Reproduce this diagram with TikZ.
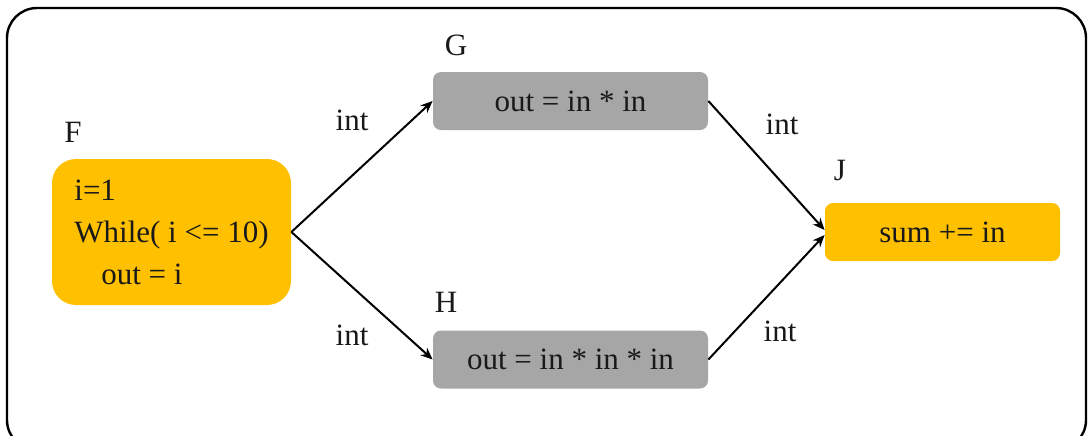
\documentclass[tikz,border=0pt]{standalone}
\usepackage{fontspec}
\setmainfont{Liberation Serif}
\usetikzlibrary{arrows.meta}
\definecolor{boxgold}{HTML}{FFC000}
\definecolor{boxgray}{HTML}{A6A6A6}
\begin{document}
\begin{tikzpicture}[x=0.5pt,y=-0.5pt,
  every node/.style={font=\fontsize{15.5}{21}\selectfont,text=black!90},
  gold/.style={fill=boxgold,rounded corners=4pt,minimum width=117.5pt,minimum height=29pt},
  gray/.style={fill=boxgray,rounded corners=4pt,minimum width=137.5pt,minimum height=29pt},
  flow/.style={-{Stealth[length=6pt,width=5pt]},line width=1pt}]
\clip (0,0) rectangle (1092,435);
\draw[line width=1.2pt,rounded corners=15pt] (7,8) rectangle (1086,450);
% boxes
\node[gold,rounded corners=12pt,minimum width=119.5pt,minimum height=73pt,
  align=left] (F) at (171.5,232)
  {i=1\\While( i <= 10)\\\hspace*{13.5pt}out = i};
\node[gray] (G) at (570.5,101) {out = in * in};
\node[gray] (H) at (570.5,359.5) {out = in * in * in};
\node[gold] (J) at (942.5,232) {sum += in};
% names
\node (Fname) at (73,132) {F};
\node (Gname) at (456,45) {G};
\node (Hname) at (446,302) {H};
\node (Jname) at (840,170) {J};
% connectors
\draw[flow] (F.east) -- (G.west);
\draw[flow] (F.east) -- (H.west);
\draw[flow] (G.east) -- ([yshift=1pt]J.west);
\draw[flow] (H.east) -- ([yshift=-1.5pt]J.west);
\node (FGint) at (352,120) {int};
\node (FHint) at (352,335) {int};
\node (GJint) at (782,124) {int};
\node (HJint) at (780,331) {int};
\end{tikzpicture}
\end{document}
